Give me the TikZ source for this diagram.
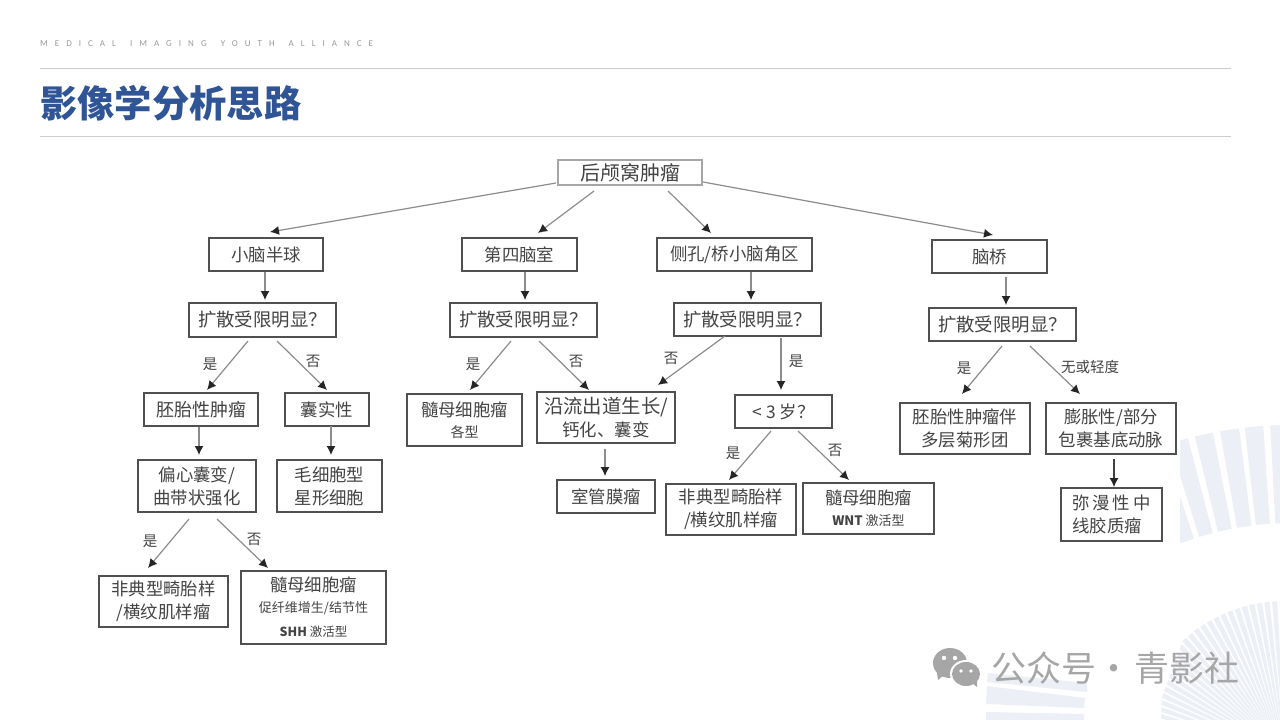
\documentclass[tikz,border=0pt]{standalone}
\usepackage{fontspec}
\setmainfont{Noto Sans CJK SC}
\newfontfamily\latinfont{Carlito}
\usetikzlibrary{arrows.meta,calc}
\definecolor{titleblue}{HTML}{2F5597}
\definecolor{fanpale}{HTML}{ECEFF5}
\definecolor{boxline}{HTML}{505050}
\definecolor{boxtext}{HTML}{444444}
\tikzset{
  box/.style 2 args={draw=boxline,line width=1.5pt,text=boxtext,inner sep=0pt,outer sep=0pt,align=center,
    minimum width=#1pt,minimum height=#2pt,font=\fontsize{17.4}{23}\selectfont},
  arr/.style={draw=gray!90,line width=1.2pt,-{Latex[length=9pt,width=9pt,black!85]}},
  tag/.style={text=boxtext,inner sep=0pt,font=\fontsize{14.5}{16}\selectfont},
  rulegray/.style={draw=black!20,line width=.8pt},
}
\newcommand{\subtxt}{\fontsize{13}{15}\selectfont}
\begin{document}
\begin{tikzpicture}[x=1pt,y=-1pt]
	\useasboundingbox (0,0) rectangle (1280,720);
	\fill[white] (0,0) rectangle (1280,720);
	% fans behind
	\begin{scope}
	    \clip (1180,400) rectangle (1280,600);
	    \foreach \a/\b in {0.3/2.9,3.9/6.5,7.3/10,11/13.6,14.6/17.2,18.2/20.8,21.8/24.4}
	        \fill[fanpale] ({1291-409*sin(\a)},{834-409*cos(\a)}) -- ({1291-409*sin(\b)},{834-409*cos(\b)})
	            -- ({1291-311*sin(\b)},{834-311*cos(\b)}) -- ({1291-311*sin(\a)},{834-311*cos(\a)}) -- cycle;
	\end{scope}
	\begin{scope}
	    \clip (1183,590) -- (1183,640) -- (1162,697) -- (1161,720) -- (1280,720) -- (1280,590) -- cycle;
	    \foreach \a in {0,2.9,...,90}
	        \fill[fanpale] (1285,753) -- ({1285-152*sin(\a)},{753-152*cos(\a)}) -- ({1285-152*sin(\a+2)},{753-152*cos(\a+2)}) -- cycle;
	\end{scope}
	\fill[fanpale] (988,673) -- (1087,683) -- (1087,692) -- (987,682) -- cycle;
	\fill[fanpale] (987,686) -- (1085,698) -- (1084,708) -- (986,704) -- cycle;
	\fill[fanpale] (986,712) -- (1084,714) -- (1084,720) -- (986,720) -- cycle;
	% header
	\node[anchor=west,inner sep=0pt,text=black!40] (slogan) at (40,44) {\latinfont\fontsize{9}{10}\selectfont\addfontfeature{LetterSpace=78}MEDICAL\hspace{5pt} IMAGING\hspace{5pt} YOUTH\hspace{5pt} ALLIANCE};
	\draw[rulegray] (40,68.5) -- (1231,68.5);
	\node[anchor=west,inner sep=0pt,text=titleblue] (title) at (40,103) {\fontsize{37.3}{40}\selectfont\bfseries 影像学分析思路};
	\draw[rulegray] (40,136.5) -- (1231,136.5);
	% level 1 and 2
	\node[box={144}{25},draw=gray!70,font=\fontsize{20}{23}\selectfont] (root) at (630,172.5) {后颅窝肿瘤};
	\node[box={114}{33}] (cerebellum) at (266,254.5) {小脑半球};
	\node[box={115}{33}] (ventricle) at (519.5,254.5) {第四脑室};
	\node[box={155}{33}] (cpa) at (734.5,254.5) {侧孔/桥小脑角区};
	\node[box={115}{33}] (pons) at (989.5,256.5) {脑桥};
	\node[box={147}{34},font=\fontsize{18.4}{23}\selectfont] (qa) at (262.5,320) {扩散受限明显？};
	\node[box={147}{34},font=\fontsize{18.4}{23}\selectfont] (qb) at (523.5,320) {扩散受限明显？};
	\node[box={147}{33},font=\fontsize{18.4}{23}\selectfont] (qc) at (747.5,319.5) {扩散受限明显？};
	\node[box={147}{33},font=\fontsize{18.4}{23}\selectfont] (qd) at (1002.5,324.5) {扩散受限明显？};
	% left branch
	\node[box={114}{33},font=\fontsize{18}{23}\selectfont] (embryonal) at (201,409.5) {胚胎性肿瘤};
	\node[box={84}{33}] (cystic) at (327,409.5) {囊实性};
	\node[box={118}{52}] (eccentric) at (197,486) {偏心囊变/\\曲带状强化};
	\node[box={105}{52}] (pilocytic) at (329.5,486) {毛细胞型\\星形细胞};
	\node[box={129}{51}] (atrta) at (163.5,601.5) {非典型畸胎样\\/横纹肌样瘤};
	\node[box={145}{73}] (shh) at (313.5,607.5) {髓母细胞瘤\\[-2pt]{\subtxt 促纤维增生/结节性}\\[1pt]{\subtxt\fontsize{12.5}{15}\selectfont\bfseries SHH {\mdseries 激活型}}};
	% middle branches
	\node[box={115}{52}] (medullo) at (464.5,420) {髓母细胞瘤\\[-2pt]{\fontsize{14}{15}\selectfont 各型}};
	\node[box={138}{51}] (outflow) at (606,417.5) {{\fontsize{19.4}{23}\selectfont 沿流出道生长/}\\钙化、囊变};
	\node[box={98}{33}] (ependymoma) at (606,496.5) {室管膜瘤};
	\node[box={97}{33}] (age) at (783.5,411.5) {<\ 3\ 岁？};
	\node[box={130}{51}] (atrtb) at (731,509.5) {非典型畸胎样\\/横纹肌样瘤};
	\node[box={131}{51}] (wnt) at (868.5,508.5) {髓母细胞瘤\\[-2pt]{\subtxt\bfseries WNT {\mdseries 激活型}}};
	% right branch
	\node[box={130}{51}] (rosette) at (965,428.5) {胚胎性肿瘤伴\\多层菊形团};
	\node[box={130}{51}] (expansive) at (1111,428.5) {膨胀性/部分\\包裹基底动脉};
	\node[box={101}{53}] (glioma) at (1111.5,514.5) {弥\hspace{3pt}漫\hspace{3pt}性\hspace{3pt}中\\线胶质瘤\hspace*{9pt}};
	% arrows
	\draw[arr] ($(root.south west)+(-2,-2)$) -- ($(cerebellum.north)+(4,-6)$);
	\draw[arr] ($(root.south)+(-36,6)$) -- ($(ventricle.north)+(18.5,-5)$);
	\draw[arr] ($(root.south)+(38,6)$) -- ($(cpa.north)+(-23.5,-5)$);
	\draw[arr] ($(root.south east)+(1,-3)$) -- ($(pons.north)+(3.5,-5)$);
	\draw[arr] ($(cerebellum.south)+(-1,1)$) -- ($(qa.north)+(2.5,-3)$);
	\draw[arr] ($(ventricle.south)+(5.5,1)$) -- ($(qb.north)+(1.5,-3)$);
	\draw[arr] ($(cpa.south)+(16.5,1)$) -- ($(qc.north)+(3.5,-3)$);
	\draw[arr] ($(pons.south)+(16.5,4)$) -- ($(qd.north)+(3.5,-3)$);
	\draw[arr] ($(qa.south)+(-14.5,4)$) -- ($(embryonal.north)+(6,-3)$);
	\draw[arr] ($(qa.south)+(14.5,4)$) -- ($(cystic.north)+(0,-3)$);
	\draw[arr] ($(qb.south)+(-12.5,4)$) -- ($(medullo.north)+(5.5,-4)$);
	\draw[arr] ($(qb.south)+(15.5,4)$) -- ($(outflow.north)+(-17,-2)$);
	\draw[arr] ($(qc.south)+(-22.5,0)$) -- ($(outflow.north)+(52,-7)$);
	\draw[arr] ($(qc.south)+(33.5,2)$) -- ($(age.north)+(-2.5,-5)$);
	\draw[arr] ($(qd.south)+(-.5,5)$) -- ($(rosette.north)+(-3,-9)$);
	\draw[arr] ($(qd.south)+(27.5,5)$) -- ($(expansive.north)+(-31,-9)$);
	\draw[arr] ($(embryonal.south)+(-2,1)$) -- ($(eccentric.north)+(2,-5)$);
	\draw[arr] ($(cystic.south)+(4,0)$) -- ($(pilocytic.north)+(1.5,-5)$);
	\draw[arr] ($(eccentric.south)+(-8,7)$) -- ($(atrta.north)+(-15.5,-8)$);
	\draw[arr] ($(eccentric.south)+(20,7)$) -- ($(shh.north)+(-45.5,-3)$);
	\draw[arr] ($(outflow.south)+(-1,6)$) -- ($(ependymoma.north)+(-1,-4)$);
	\draw[arr] ($(age.south)+(-12.5,3)$) -- ($(atrtb.north)+(-2,-4)$);
	\draw[arr] ($(age.south)+(14.5,3)$) -- ($(wnt.north)+(-19.5,-3)$);
	\draw[arr,draw=black!75] ($(expansive.south)+(3,5)$) -- ($(glioma.north)+(2.5,-1)$);
	% yes and no
	\node[tag] (yesa) at (210,364) {是};
	\node[tag] (noa) at (313,361) {否};
	\node[tag] (yesb) at (473,364) {是};
	\node[tag] (nob) at (576,361) {否};
	\node[tag] (noc) at (671,358) {否};
	\node[tag] (yesc) at (796,361) {是};
	\node[tag] (yesd) at (964,368) {是};
	\node[tag] (nod) at (1090,367) {无或轻度};
	\node[tag] (yese) at (150,541) {是};
	\node[tag] (noe) at (254,539) {否};
	\node[tag] (yesf) at (733,453) {是};
	\node[tag] (nof) at (835,450) {否};
	% watermark
	\fill[black!35] (950,663) ellipse (17 and 15);
	\fill[black!35] (937,673) -- (944,675) -- (938,680) -- cycle;
	\fill[white] (966,674) ellipse (16 and 14);
	\fill[black!35] (966,674) ellipse (14 and 12);
	\fill[black!35] (972,683) -- (977,687) -- (977,680) -- cycle;
	\fill[white] (944,658) circle (2.2) (955,658) circle (2.2) (961,671) circle (1.8) (971,671) circle (1.8);
	\node[anchor=west,inner sep=0pt,text=black!35] (brand) at (991,668) {\fontsize{35}{38}\selectfont 公众号·\hspace{3pt}青影社};
\end{tikzpicture}
\end{document}
